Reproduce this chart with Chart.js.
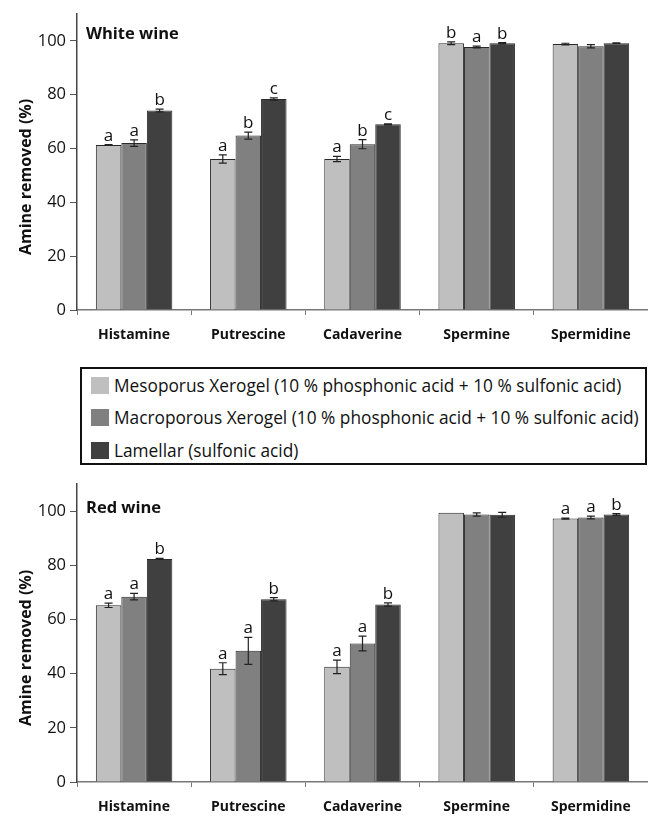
<!DOCTYPE html>
<html>
<head>
<meta charset="utf-8">
<script src="https://cdn.jsdelivr.net/npm/chart.js@4.4.0/dist/chart.umd.min.js"></script>
<style>
  html, body { margin: 0; padding: 0; background: #fff; }
  body { width: 648px; height: 817px; position: relative; overflow: hidden; font-family: 'Open Sans', sans-serif; }
  .panel { position: absolute; left: 0; width: 648px; }
  #legend {
    position: absolute; left: 80px; top: 367px; width: 567px; height: 98px;
    border: 2.5px solid #111; box-sizing: border-box; padding: 0 0 0 9px;
    font-size: 17.3px; color: #111;
  }
  .row { display: flex; align-items: center; height: 32.5px; white-space: nowrap; }
  .sw { width: 18px; height: 17px; margin-right: 5px; flex: none; }
</style>
</head>
<body>
<div class="panel" style="top:0;height:350px"><canvas id="chart-white"></canvas></div>
<div id="legend"></div>
<div class="panel" style="top:470px;height:347px"><canvas id="chart-red"></canvas></div>
<script>
const amines = ['Histamine', 'Putrescine', 'Cadaverine', 'Spermine', 'Spermidine'];
const seriesNames = [
  'Mesoporus Xerogel (10 % phosphonic acid + 10 % sulfonic acid)',
  'Macroporous Xerogel (10 % phosphonic acid + 10 % sulfonic acid)',
  'Lamellar (sulfonic acid)',
];
const seriesColors = ['#bfbfbf', '#808080', '#404040'];
const yTicks = [0, 20, 40, 60, 80, 100];

// White wine
const whiteMeso = [61.3, 56.1, 56.1, 99.1, 98.8];
const whiteMacro = [62.0, 64.8, 61.6, 97.7, 98.0];
const whiteLamellar = [74.1, 78.4, 69.0, 99.1, 99.1];
const whiteMesoErr = [0.1, 1.5, 1.0, 0.5, 0.3];
const whiteMacroErr = [1.2, 1.3, 1.7, 0.3, 0.6];
const whiteLamellarErr = [0.5, 0.4, 0.2, 0.2, 0.1];
const whiteMesoLetters = ['a', 'a', 'a', 'b', ''];
const whiteMacroLetters = ['a', 'b', 'b', 'a', ''];
const whiteLamellarLetters = ['b', 'c', 'c', 'b', ''];

// Red wine
const redMeso = [65.2, 41.8, 42.5, 99.4, 97.2];
const redMacro = [68.4, 48.4, 51.1, 98.7, 97.6];
const redLamellar = [82.3, 67.4, 65.5, 98.6, 98.7];
const redMesoErr = [0.8, 2.2, 2.5, 0, 0.2];
const redMacroErr = [1.2, 5.0, 2.7, 0.6, 0.5];
const redLamellarErr = [0.2, 0.6, 0.6, 0.9, 0.3];
const redMesoLetters = ['a', 'a', 'a', '', 'a'];
const redMacroLetters = ['a', 'a', 'a', '', 'a'];
const redLamellarLetters = ['b', 'b', 'b', '', 'b'];

const FONT = "'Open Sans', sans-serif";
const AXIS_TITLE = 'Amine removed (%)';

// Draw error bars, significance letters, the panel label and the y title.
const annotations = {
  id: 'annotations',
  afterDatasetsDraw(chart, args, opts) {
    const { ctx, chartArea, scales: { y } } = chart;
    ctx.save();
    chart.data.datasets.forEach((ds, i) => {
      const meta = chart.getDatasetMeta(i);
      meta.data.forEach((bar, j) => {
        const v = ds.data[j];
        const e = opts.errors[i][j];
        const top = y.getPixelForValue(v + e);
        const bottom = y.getPixelForValue(v - e);
        if (e > 0) {
          ctx.strokeStyle = '#222';
          ctx.lineWidth = 1.2;
          ctx.beginPath();
          ctx.moveTo(bar.x, top); ctx.lineTo(bar.x, bottom);
          ctx.moveTo(bar.x - 4, top); ctx.lineTo(bar.x + 4, top);
          ctx.moveTo(bar.x - 4, bottom); ctx.lineTo(bar.x + 4, bottom);
          ctx.stroke();
        }
        const letter = opts.letters[i][j];
        if (letter) {
          ctx.fillStyle = '#111';
          ctx.font = `17px ${FONT}`;
          ctx.textAlign = 'center';
          ctx.textBaseline = 'alphabetic';
          ctx.fillText(letter, bar.x, Math.min(top, y.getPixelForValue(v)) - 4);
        }
      });
    });
    ctx.fillStyle = '#111';
    ctx.font = `bold 16.5px ${FONT}`;
    ctx.textAlign = 'left';
    ctx.textBaseline = 'alphabetic';
    ctx.fillText(opts.label, chartArea.left + 9, opts.labelY);

    ctx.translate(26, (chartArea.top + chartArea.bottom) / 2 + 15);
    ctx.rotate(-Math.PI / 2);
    ctx.font = `bold 16px ${FONT}`;
    ctx.textAlign = 'center';
    ctx.textBaseline = 'middle';
    ctx.fillText(AXIS_TITLE, 0, 0);
    ctx.restore();
  },
};

function buildChart(id, values, errors, letters, label, padTop, xHeight, labelY) {
  return new Chart(document.getElementById(id).getContext('2d'), {
    type: 'bar',
    data: {
      labels: amines,
      datasets: values.map((data, i) => ({
        label: seriesNames[i],
        data,
        backgroundColor: seriesColors[i],
        borderColor: '#2a2a2a',
        borderWidth: 1,
        categoryPercentage: 0.67,
        barPercentage: 1,
      })),
    },
    options: {
      responsive: true,
      maintainAspectRatio: false,
      animation: false,
      events: [],
      layout: { padding: { top: padTop, right: 0, left: 0, bottom: 0 } },
      plugins: {
        legend: { display: false },
        tooltip: { enabled: false },
        annotations: { errors, letters, label, labelY },
      },
      scales: {
        x: {
          grid: { drawOnChartArea: false, tickLength: 5, color: '#777', offset: true },
          border: { color: '#777', width: 1.5 },
          ticks: { color: '#111', padding: 12, font: { family: FONT, size: 14, weight: 'bold' } },
          afterFit: (s) => { s.height = xHeight; },
        },
        y: {
          min: 0,
          max: 110,
          grid: { drawOnChartArea: false, tickLength: 7, color: '#555' },
          border: { color: '#444', width: 1.5 },
          ticks: {
            stepSize: 20,
            includeBounds: false,
            color: '#111',
            padding: 4,
            font: { family: FONT, size: 16.5 },
            callback: (v) => (yTicks.includes(v) ? v : ''),
          },
          afterFit: (s) => { s.width = 77; },
        },
      },
    },
    plugins: [annotations],
  });
}

buildChart('chart-white',
  [whiteMeso, whiteMacro, whiteLamellar],
  [whiteMesoErr, whiteMacroErr, whiteLamellarErr],
  [whiteMesoLetters, whiteMacroLetters, whiteLamellarLetters],
  'White wine', 10, 40, 39);

buildChart('chart-red',
  [redMeso, redMacro, redLamellar],
  [redMesoErr, redMacroErr, redLamellarErr],
  [redMesoLetters, redMacroLetters, redLamellarLetters],
  'Red wine', 11, 35, 43);

document.getElementById('legend').innerHTML = seriesNames.map((name, i) => `
  <div class="row"><span class="sw" style="background:${seriesColors[i]}"></span>${name}</div>
`).join('');
</script>
</body>
</html>
